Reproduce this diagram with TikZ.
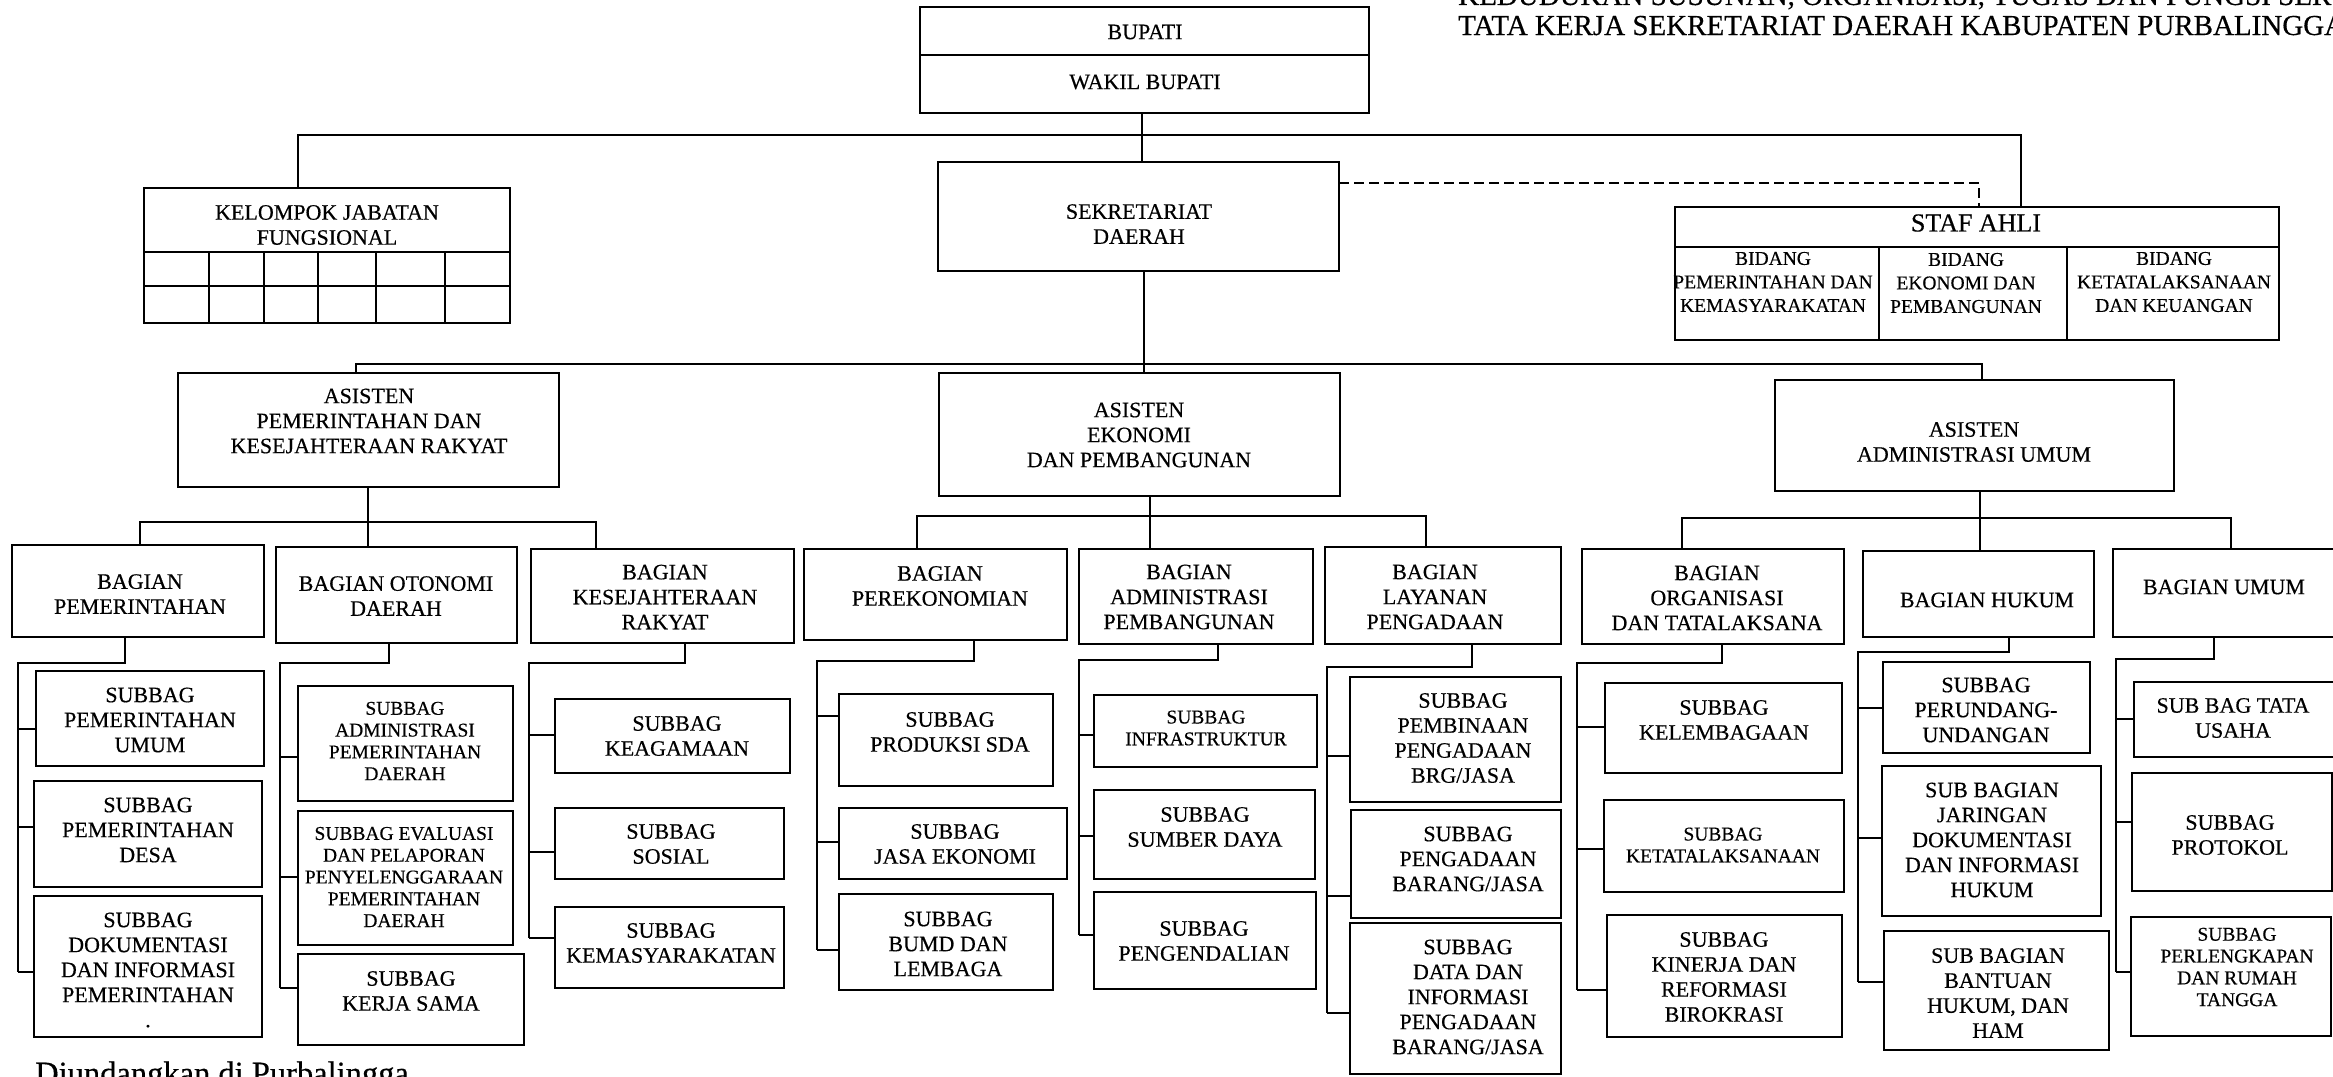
\documentclass[tikz,border=0pt]{standalone}
\usepackage{fontspec}
\setmainfont{Liberation Serif}[FakeBold=0.4]
\newcommand\xfN{\fontsize{22}{25}\selectfont}
\newcommand\xfS{\fontsize{19.5}{21.8}\selectfont}
\newcommand\xfA{\fontsize{19.5}{23.5}\selectfont}
\newcommand\xfB{\fontsize{26}{30}\selectfont}
\newcommand\xfT{\fontsize{29}{30}\selectfont}
\newcommand\bx[9]{%
  \node[box, minimum width={(#4)-(#2)}, minimum height={(#5)-(#3)}, anchor=north west] (#1) at (#2,#3) {};
  \node[txt, font=#8] (#1t) at (#6,#7) {#9};
}
\tikzset{
  box/.style={draw, rectangle, line width=2.2pt, inner sep=0pt, outer sep=0pt},
  txt/.style={align=center, inner sep=0pt},
  conn/.style={line width=2pt},
  dline/.style={line width=2.4pt, dash pattern=on 10pt off 5pt},
}
\begin{document}
\begin{tikzpicture}[x=1pt, y=-1pt, line join=miter]
\useasboundingbox (0,0) rectangle (2333,1076);
\fill[white] (0,0) rectangle (2333,1076);
\clip (0,0) rectangle (2333,1076);

% title and footer
\node[anchor=base west, font=\xfT, inner sep=0pt] (ttl1) at (1458,5) {KEDUDUKAN SUSUNAN, ORGANISASI, TUGAS DAN FUNGSI SERTA};
\node[anchor=base west, font=\xfT, inner sep=0pt] (ttl2) at (1458,35) {TATA KERJA SEKRETARIAT DAERAH KABUPATEN PURBALINGGA};
\node[anchor=base west, font=\fontsize{32.5}{34}\selectfont, inner sep=0pt] (dj) at (35,1084) {Diundangkan di Purbalingga};

% top level
\bx{bup}{920}{7}{1369}{55}{1145}{32}{\xfN}{BUPATI}
\bx{wbup}{920}{55}{1369}{113}{1145}{82}{\xfN}{WAKIL BUPATI}
\bx{sek}{938}{162}{1339}{271}{1139}{224}{\xfN}{SEKRETARIAT\\DAERAH}
\bx{kjf}{144}{188}{510}{252}{327}{225}{\xfN}{KELOMPOK JABATAN\\FUNGSIONAL}
\node[box, minimum width=366, minimum height=71, anchor=north west] (kjfg) at (144,252) {};
\draw[conn] (kjfg.west |- 0,286) -- (kjfg.east |- 0,286);
\foreach \gx in {209,264,318,376,445} \draw[conn] (kjfg.north -| \gx,0) -- (kjfg.south -| \gx,0);

\bx{staf}{1675}{207}{2279}{247}{1976}{223}{\xfB}{STAF AHLI}
\bx{sa1}{1675}{247}{1879}{340}{1773}{282}{\xfA}{BIDANG\\PEMERINTAHAN DAN\\KEMASYARAKATAN}
\bx{sa2}{1879}{247}{2067}{340}{1966}{283}{\xfA}{BIDANG\\EKONOMI DAN\\PEMBANGUNAN}
\bx{sa3}{2067}{247}{2279}{340}{2174}{282}{\xfA}{BIDANG\\KETATALAKSANAAN\\DAN KEUANGAN}

% asisten
\bx{asp}{178}{373}{559}{487}{369}{421}{\xfN}{ASISTEN\\PEMERINTAHAN DAN\\KESEJAHTERAAN RAKYAT}
\bx{aek}{939}{373}{1340}{496}{1139}{435}{\xfN}{ASISTEN\\EKONOMI\\DAN PEMBANGUNAN}
\bx{aadm}{1775}{380}{2174}{491}{1974}{442}{\xfN}{ASISTEN\\ADMINISTRASI UMUM}

% bagian
\bx{bpem}{12}{545}{264}{637}{140}{594}{\xfN}{BAGIAN\\PEMERINTAHAN}
\bx{botd}{276}{547}{517}{643}{396}{596}{\xfN}{BAGIAN OTONOMI\\DAERAH}
\bx{bkes}{531}{549}{794}{643}{665}{597}{\xfN}{BAGIAN\\KESEJAHTERAAN\\RAKYAT}
\bx{bper}{804}{549}{1067}{640}{940}{586}{\xfN}{BAGIAN\\PEREKONOMIAN}
\bx{badm}{1079}{549}{1313}{644}{1189}{597}{\xfN}{BAGIAN\\ADMINISTRASI\\PEMBANGUNAN}
\bx{blay}{1325}{547}{1561}{644}{1435}{597}{\xfN}{BAGIAN\\LAYANAN\\PENGADAAN}
\bx{borg}{1582}{549}{1844}{644}{1717}{598}{\xfN}{BAGIAN\\ORGANISASI\\DAN TATALAKSANA}
\bx{bhuk}{1863}{551}{2094}{637}{1987}{600}{\xfN}{BAGIAN HUKUM}
\bx{bumum}{2113}{549}{2345}{637}{2224}{587}{\xfN}{BAGIAN UMUM}

% subbagian
\bx{s11}{36}{671}{264}{766}{150}{720}{\xfN}{SUBBAG\\PEMERINTAHAN\\UMUM}
\bx{s12}{34}{781}{262}{887}{148}{830}{\xfN}{SUBBAG\\PEMERINTAHAN\\DESA}
\bx{s13}{34}{896}{262}{1037}{148}{970}{\xfN}{SUBBAG\\DOKUMENTASI\\DAN INFORMASI\\PEMERINTAHAN\\.}
\bx{s21}{298}{686}{513}{801}{405}{741}{\xfS}{SUBBAG\\ADMINISTRASI\\PEMERINTAHAN\\DAERAH}
\bx{s22}{298}{811}{513}{945}{404}{877}{\xfS}{SUBBAG EVALUASI\\DAN PELAPORAN\\PENYELENGGARAAN\\PEMERINTAHAN\\DAERAH}
\bx{s23}{298}{954}{524}{1045}{411}{991}{\xfN}{SUBBAG\\KERJA SAMA}
\bx{s31}{555}{699}{790}{773}{677}{736}{\xfN}{SUBBAG\\KEAGAMAAN}
\bx{s32}{555}{808}{784}{879}{671}{844}{\xfN}{SUBBAG\\SOSIAL}
\bx{s33}{555}{907}{784}{988}{671}{943}{\xfN}{SUBBAG\\KEMASYARAKATAN}
\bx{s41}{839}{694}{1053}{786}{950}{732}{\xfN}{SUBBAG\\PRODUKSI SDA}
\bx{s42}{839}{808}{1067}{879}{955}{844}{\xfN}{SUBBAG\\JASA EKONOMI}
\bx{s43}{839}{894}{1053}{990}{948}{944}{\xfN}{SUBBAG\\BUMD DAN\\LEMBAGA}
\bx{s51}{1094}{695}{1317}{767}{1206}{728}{\xfS}{SUBBAG\\INFRASTRUKTUR}
\bx{s52}{1094}{790}{1315}{879}{1205}{827}{\xfN}{SUBBAG\\SUMBER DAYA}
\bx{s53}{1094}{892}{1316}{989}{1204}{941}{\xfN}{SUBBAG\\PENGENDALIAN}
\bx{s61}{1350}{677}{1561}{802}{1463}{738}{\xfN}{SUBBAG\\PEMBINAAN\\PENGADAAN\\BRG/JASA}
\bx{s62}{1351}{810}{1561}{918}{1468}{859}{\xfN}{SUBBAG\\PENGADAAN\\BARANG/JASA}
\bx{s63}{1350}{923}{1561}{1074}{1468}{997}{\xfN}{SUBBAG\\DATA DAN\\INFORMASI\\PENGADAAN\\BARANG/JASA}
\bx{s71}{1605}{683}{1842}{773}{1724}{720}{\xfN}{SUBBAG\\KELEMBAGAAN}
\bx{s72}{1604}{800}{1844}{892}{1723}{845}{\xfS}{SUBBAG\\KETATALAKSANAAN}
\bx{s73}{1607}{915}{1842}{1037}{1724}{977}{\xfN}{SUBBAG\\KINERJA DAN\\REFORMASI\\BIROKRASI}
\bx{s81}{1883}{662}{2090}{753}{1986}{710}{\xfN}{SUBBAG\\PERUNDANG-\\UNDANGAN}
\bx{s82}{1882}{766}{2101}{916}{1992}{840}{\xfN}{SUB BAGIAN\\JARINGAN\\DOKUMENTASI\\DAN INFORMASI\\HUKUM}
\bx{s83}{1884}{931}{2109}{1050}{1998}{993}{\xfN}{SUB BAGIAN\\BANTUAN\\HUKUM, DAN\\HAM}
\bx{s91}{2134}{682}{2345}{757}{2233}{718}{\xfN}{SUB BAG TATA\\USAHA}
\bx{s92}{2132}{773}{2332}{891}{2230}{835}{\xfN}{SUBBAG\\PROTOKOL}
\bx{s93}{2131}{917}{2331}{1036}{2237}{967}{\xfS}{SUBBAG\\PERLENGKAPAN\\DAN RUMAH\\TANGGA}

% connectors: top
\draw[conn] (wbup.south -| 1142,0) -- (sek.north -| 1142,0);
\draw[conn] (kjf.north -| 298,0) -- (298,135) -- (2021,135) -- (staf.north -| 2021,0);
\draw[dline] (sek.east |- 0,183) -- (1979,183) -- (staf.north -| 1979,0);
% to asisten
\draw[conn] (sek.south -| 1144,0) -- (aek.north -| 1144,0);
\draw[conn] (asp.north -| 356,0) -- (356,364) -- (1982,364) -- (aadm.north -| 1982,0);
% to bagian
\draw[conn] (asp.south -| 368,0) -- (botd.north -| 368,0);
\draw[conn] (bpem.north -| 140,0) -- (140,522) -- (596,522) -- (bkes.north -| 596,0);
\draw[conn] (aek.south -| 1150,0) -- (badm.north -| 1150,0);
\draw[conn] (bper.north -| 917,0) -- (917,516) -- (1426,516) -- (blay.north -| 1426,0);
\draw[conn] (aadm.south -| 1980,0) -- (bhuk.north -| 1980,0);
\draw[conn] (borg.north -| 1682,0) -- (1682,518) -- (2231,518) -- (bumum.north -| 2231,0);

% to subbagian
\draw[conn] (bpem.south -| 125,0) -- (125,663) -- (18,663) -- (18,972);
\foreach \y/\c in {729/s11, 827/s12, 972/s13} \draw[conn] (18,\y) -- (\c.west |- 0,\y);
\draw[conn] (botd.south -| 389,0) -- (389,663) -- (280,663) -- (280,988);
\foreach \y/\c in {757/s21, 877/s22, 988/s23} \draw[conn] (280,\y) -- (\c.west |- 0,\y);
\draw[conn] (bkes.south -| 685,0) -- (685,663) -- (529,663) -- (529,938);
\foreach \y/\c in {735/s31, 852/s32, 938/s33} \draw[conn] (529,\y) -- (\c.west |- 0,\y);
\draw[conn] (bper.south -| 974,0) -- (974,661) -- (817,661) -- (817,950);
\foreach \y/\c in {716/s41, 842/s42, 950/s43} \draw[conn] (817,\y) -- (\c.west |- 0,\y);
\draw[conn] (badm.south -| 1218,0) -- (1218,660) -- (1079,660) -- (1079,935);
\foreach \y/\c in {735/s51, 836/s52, 935/s53} \draw[conn] (1079,\y) -- (\c.west |- 0,\y);
\draw[conn] (blay.south -| 1472,0) -- (1472,667) -- (1327,667) -- (1327,1013);
\foreach \y/\c in {756/s61, 896/s62, 1013/s63} \draw[conn] (1327,\y) -- (\c.west |- 0,\y);
\draw[conn] (borg.south -| 1722,0) -- (1722,663) -- (1577,663) -- (1577,990);
\foreach \y/\c in {727/s71, 849/s72, 990/s73} \draw[conn] (1577,\y) -- (\c.west |- 0,\y);
\draw[conn] (bhuk.south -| 2009,0) -- (2009,652) -- (1858,652) -- (1858,982);
\foreach \y/\c in {708/s81, 838/s82, 982/s83} \draw[conn] (1858,\y) -- (\c.west |- 0,\y);
\draw[conn] (bumum.south -| 2214,0) -- (2214,659) -- (2116,659) -- (2116,972);
\foreach \y/\c in {719/s91, 822/s92, 972/s93} \draw[conn] (2116,\y) -- (\c.west |- 0,\y);
\end{tikzpicture}
\end{document}
